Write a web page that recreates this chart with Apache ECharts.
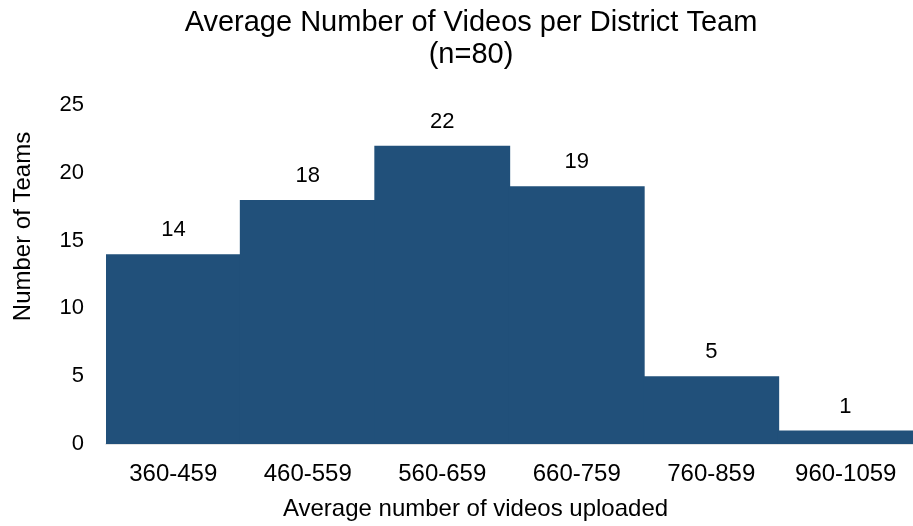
<!DOCTYPE html>
<html><head><meta charset="utf-8">
<script src="https://cdn.jsdelivr.net/npm/echarts@6/dist/echarts.min.js"></script>
<style>html,body{margin:0;padding:0;background:#fff}#c{width:913px;height:526px}</style>
</head><body><div id="c"></div>
<script>
const categories = ['360-459','460-559','560-659','660-759','760-859','960-1059'];
const teams = [14, 18, 22, 19, 5, 1];
const yTicks = [0, 5, 10, 15, 20, 25];

const chart = echarts.init(document.getElementById('c'));
const font = 'Liberation Sans, Arial, sans-serif';
chart.setOption({
  animation: false,
  title: {
    text: 'Average Number of Videos per District Team\n(n=80)',
    left: 466, top: 2, textAlign: 'center',
    textStyle: {fontFamily: font, fontSize: 29, fontWeight: 'normal', color: '#000', lineHeight: 32}
  },
  grid: {left: 106, right: 0, top: 105, bottom: 77},
  xAxis: {
    type: 'category', data: categories,
    name: 'Average number of videos uploaded', nameLocation: 'middle', nameGap: 53,
    nameTextStyle: {fontFamily: font, fontSize: 24, color: '#000', padding: [0, 68, 0, 0]},
    axisLine: {show: true, lineStyle: {color: '#d9d9d9', width: 1.5}},
    axisTick: {show: false},
    axisLabel: {fontFamily: font, fontSize: 24, color: '#000', margin: 18}
  },
  yAxis: {
    type: 'value', min: yTicks[0], max: yTicks[yTicks.length-1], interval: 5,
    name: 'Number of Teams', nameLocation: 'middle', nameGap: 71,
    nameTextStyle: {fontFamily: font, fontSize: 24, color: '#000', padding: [0, 0, 0, 96]},
    axisLine: {show: false}, axisTick: {show: false}, splitLine: {show: false},
    axisLabel: {fontFamily: font, fontSize: 22, color: '#000', margin: 22}
  },
  series: [{
    type: 'bar', data: teams, barWidth: '101%',
    itemStyle: {color: '#21507a'},
    label: {show: true, position: 'top', distance: 13, fontFamily: font, fontSize: 22, color: '#000'}
  }]
});
</script></body></html>
